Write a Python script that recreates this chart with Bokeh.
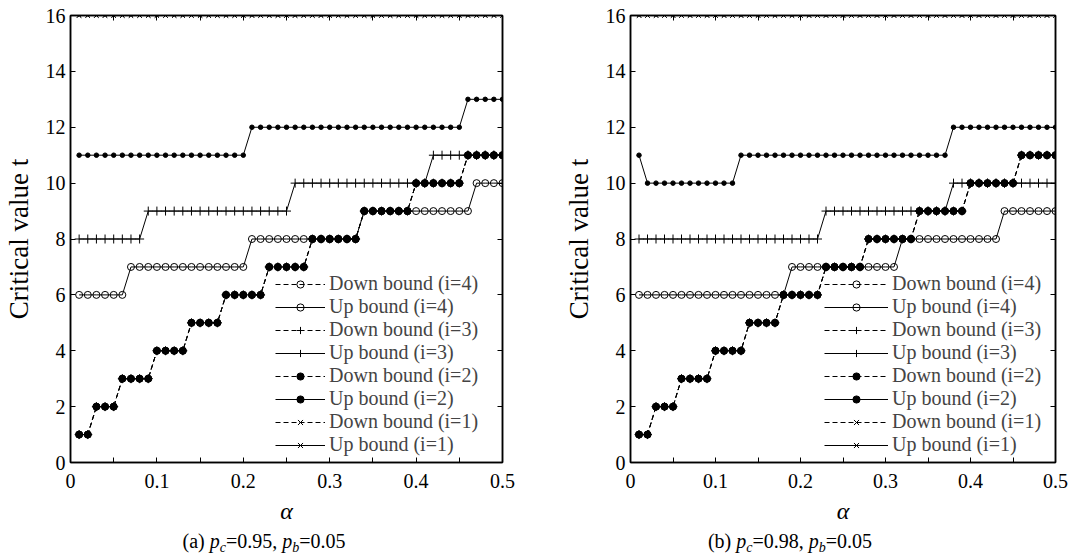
from bokeh.plotting import figure
from bokeh.models import FixedTicker, LinearAxis, Legend, LegendItem, Range1d, Div
from bokeh.layouts import row, column
from bokeh.embed import file_html
from bokeh.resources import INLINE

# ---------------- data ----------------
alpha = [0.01, 0.02, 0.03, 0.04, 0.05, 0.06, 0.07, 0.08, 0.09, 0.10,
         0.11, 0.12, 0.13, 0.14, 0.15, 0.16, 0.17, 0.18, 0.19, 0.20,
         0.21, 0.22, 0.23, 0.24, 0.25, 0.26, 0.27, 0.28, 0.29, 0.30,
         0.31, 0.32, 0.33, 0.34, 0.35, 0.36, 0.37, 0.38, 0.39, 0.40,
         0.41, 0.42, 0.43, 0.44, 0.45, 0.46, 0.47, 0.48, 0.49, 0.50]

x_ticks = [0, 0.1, 0.2, 0.3, 0.4, 0.5]
x_tick_labels = ["0", "0.1", "0.2", "0.3", "0.4", "0.5"]
x_minor_ticks = [0.05, 0.15, 0.25, 0.35, 0.45]
y_ticks = [0, 2, 4, 6, 8, 10, 12, 14, 16]

# panel (a)  p_c=0.95, p_b=0.05
a_up1 = [16, 16, 16, 16, 16, 16, 16, 16, 16, 16, 16, 16, 16, 16, 16, 16, 16, 16, 16, 16,
         16, 16, 16, 16, 16, 16, 16, 16, 16, 16, 16, 16, 16, 16, 16, 16, 16, 16, 16, 16,
         16, 16, 16, 16, 16, 16, 16, 16, 16, 16]
a_down1 = [16, 16, 16, 16, 16, 16, 16, 16, 16, 16, 16, 16, 16, 16, 16, 16, 16, 16, 16, 16,
           16, 16, 16, 16, 16, 16, 16, 16, 16, 16, 16, 16, 16, 16, 16, 16, 16, 16, 16, 16,
           16, 16, 16, 16, 16, 16, 16, 16, 16, 16]
a_up2 = [11, 11, 11, 11, 11, 11, 11, 11, 11, 11, 11, 11, 11, 11, 11, 11, 11, 11, 11, 11,
         12, 12, 12, 12, 12, 12, 12, 12, 12, 12, 12, 12, 12, 12, 12, 12, 12, 12, 12, 12,
         12, 12, 12, 12, 12, 13, 13, 13, 13, 13]
a_up3 = [8, 8, 8, 8, 8, 8, 8, 8, 9, 9, 9, 9, 9, 9, 9, 9, 9, 9, 9, 9, 9, 9, 9, 9, 9,
         10, 10, 10, 10, 10, 10, 10, 10, 10, 10, 10, 10, 10, 10, 10, 10,
         11, 11, 11, 11, 11, 11, 11, 11, 11]
a_up4 = [6, 6, 6, 6, 6, 6, 7, 7, 7, 7, 7, 7, 7, 7, 7, 7, 7, 7, 7, 7,
         8, 8, 8, 8, 8, 8, 8, 8, 8, 8, 8, 8, 8,
         9, 9, 9, 9, 9, 9, 9, 9, 9, 9, 9, 9, 9, 10, 10, 10, 10]
a_down2 = [1, 1, 2, 2, 2, 3, 3, 3, 3, 4, 4, 4, 4, 5, 5, 5, 5, 6, 6, 6, 6, 6,
           7, 7, 7, 7, 7, 8, 8, 8, 8, 8, 8, 9, 9, 9, 9, 9, 9,
           10, 10, 10, 10, 10, 10, 11, 11, 11, 11, 11]
a_down3 = [1, 1, 2, 2, 2, 3, 3, 3, 3, 4, 4, 4, 4, 5, 5, 5, 5, 6, 6, 6, 6, 6,
           7, 7, 7, 7, 7, 8, 8, 8, 8, 8, 8, 9, 9, 9, 9, 9, 9,
           10, 10, 10, 10, 10, 10, 11, 11, 11, 11, 11]
a_down4 = [1, 1, 2, 2, 2, 3, 3, 3, 3, 4, 4, 4, 4, 5, 5, 5, 5, 6, 6, 6, 6, 6,
           7, 7, 7, 7, 7, 8, 8, 8, 8, 8, 8, 9, 9, 9, 9, 9, 9,
           10, 10, 10, 10, 10, 10, 11, 11, 11, 11, 11]

# panel (b)  p_c=0.98, p_b=0.05
b_up1 = [16, 16, 16, 16, 16, 16, 16, 16, 16, 16, 16, 16, 16, 16, 16, 16, 16, 16, 16, 16,
         16, 16, 16, 16, 16, 16, 16, 16, 16, 16, 16, 16, 16, 16, 16, 16, 16, 16, 16, 16,
         16, 16, 16, 16, 16, 16, 16, 16, 16, 16]
b_down1 = [16, 16, 16, 16, 16, 16, 16, 16, 16, 16, 16, 16, 16, 16, 16, 16, 16, 16, 16, 16,
           16, 16, 16, 16, 16, 16, 16, 16, 16, 16, 16, 16, 16, 16, 16, 16, 16, 16, 16, 16,
           16, 16, 16, 16, 16, 16, 16, 16, 16, 16]
b_up2 = [11, 10, 10, 10, 10, 10, 10, 10, 10, 10, 10, 10,
         11, 11, 11, 11, 11, 11, 11, 11, 11, 11, 11, 11, 11, 11, 11, 11, 11, 11, 11, 11,
         11, 11, 11, 11, 11, 12, 12, 12, 12, 12, 12, 12, 12, 12, 12, 12, 12, 12]
b_up3 = [8, 8, 8, 8, 8, 8, 8, 8, 8, 8, 8, 8, 8, 8, 8, 8, 8, 8, 8, 8, 8, 8,
         9, 9, 9, 9, 9, 9, 9, 9, 9, 9, 9, 9, 9, 9, 9,
         10, 10, 10, 10, 10, 10, 10, 10, 10, 10, 10, 10, 10]
b_up4 = [6, 6, 6, 6, 6, 6, 6, 6, 6, 6, 6, 6, 6, 6, 6, 6, 6, 6,
         7, 7, 7, 7, 7, 7, 7, 7, 7, 7, 7, 7, 7,
         8, 8, 8, 8, 8, 8, 8, 8, 8, 8, 8, 8,
         9, 9, 9, 9, 9, 9, 9]
b_down2 = [1, 1, 2, 2, 2, 3, 3, 3, 3, 4, 4, 4, 4, 5, 5, 5, 5, 6, 6, 6, 6, 6,
           7, 7, 7, 7, 7, 8, 8, 8, 8, 8, 8, 9, 9, 9, 9, 9, 9,
           10, 10, 10, 10, 10, 10, 11, 11, 11, 11, 11]
b_down3 = [1, 1, 2, 2, 2, 3, 3, 3, 3, 4, 4, 4, 4, 5, 5, 5, 5, 6, 6, 6, 6, 6,
           7, 7, 7, 7, 7, 8, 8, 8, 8, 8, 8, 9, 9, 9, 9, 9, 9,
           10, 10, 10, 10, 10, 10, 11, 11, 11, 11, 11]
b_down4 = [1, 1, 2, 2, 2, 3, 3, 3, 3, 4, 4, 4, 4, 5, 5, 5, 5, 6, 6, 6, 6, 6,
           7, 7, 7, 7, 7, 8, 8, 8, 8, 8, 8, 9, 9, 9, 9, 9, 9,
           10, 10, 10, 10, 10, 10, 11, 11, 11, 11, 11]

legend_labels = ["Down bound (i=4)", "Up bound (i=4)", "Down bound (i=3)", "Up bound (i=3)",
                 "Down bound (i=2)", "Up bound (i=2)", "Down bound (i=1)", "Up bound (i=1)"]

SUB = '<sub style="font-size:70%;vertical-align:-0.3em;line-height:0;font-style:italic">'
caption_a = '(a) <i>p</i>' + SUB + 'c</sub>=0.95, <i>p</i>' + SUB + 'b</sub>=0.05'
caption_b = '(b) <i>p</i>' + SUB + 'c</sub>=0.98, <i>p</i>' + SUB + 'b</sub>=0.05'

FONT = "Liberation Serif"

MARK = {
    1: dict(marker="x", size=6, fill_color=None),
    2: dict(marker="circle", size=4.5, fill_color="black"),
    3: dict(marker="cross", size=9, fill_color=None),
    4: dict(marker="circle", size=7, fill_color=None),
}


def panel(up, down, fig_w, bl, br, legend_x, glyph_w):
    p = figure(width=fig_w, height=532, output_backend="svg", toolbar_location=None,
               x_range=Range1d(0, 0.5), y_range=Range1d(0, 16),
               min_border_left=bl, min_border_right=br, min_border_top=15, min_border_bottom=70)
    p.xgrid.grid_line_color = None
    p.ygrid.grid_line_color = None
    p.outline_line_color = "black"
    p.outline_line_width = 1.5
    p.outline_line_alpha = 1.0

    xt = FixedTicker(ticks=x_ticks, minor_ticks=x_minor_ticks)
    yt = FixedTicker(ticks=y_ticks)

    def style(ax, labels=True):
        ax.axis_line_color = "black"
        ax.axis_line_width = 1.5
        ax.major_tick_in = 5
        ax.major_tick_out = 0
        ax.minor_tick_in = 5
        ax.minor_tick_out = 0
        ax.major_tick_line_color = "black"
        ax.minor_tick_line_color = "black"
        ax.major_label_text_font = FONT
        if labels:
            ax.major_label_text_font_size = "20px"
            ax.major_label_text_color = "black"
        else:
            ax.major_label_text_font_size = "1px"
            ax.major_label_text_color = None
            ax.major_label_standoff = 0

    xa = p.xaxis[0]
    xa.ticker = xt
    xa.major_label_overrides = dict(zip(x_ticks, x_tick_labels))
    style(xa)
    xa.major_label_standoff = 11
    xa.axis_label = "α"
    xa.axis_label_text_font = FONT
    xa.axis_label_text_font_style = "italic"
    xa.axis_label_text_font_size = "24px"
    xa.axis_label_standoff = 7
    xa.axis_label_text_color = "black"

    ya = p.yaxis[0]
    ya.ticker = yt
    style(ya)
    ya.major_label_standoff = 5
    ya.axis_label = "Critical value t"
    ya.axis_label_text_font = FONT
    ya.axis_label_text_font_style = "normal"
    ya.axis_label_text_font_size = "27px"
    ya.axis_label_standoff = 9
    ya.axis_label_text_color = "black"

    top = LinearAxis(ticker=xt)
    style(top, labels=False)
    p.add_layout(top, "above")
    right = LinearAxis(ticker=yt)
    style(right, labels=False)
    p.add_layout(right, "right")

    rend = {}
    for i in (1, 2, 3, 4):
        ln = p.line(alpha, up[i], line_color="black", line_width=1)
        sc = p.scatter(alpha, up[i], line_color="black", line_width=1, **MARK[i])
        rend[("up", i)] = [ln, sc]
    for i in (4, 3, 1, 2):
        ln = p.line(alpha, down[i], line_color="black", line_width=1, line_dash="5 3")
        m = dict(MARK[i])
        if i == 2:
            m["size"] = 7
        sc = p.scatter(alpha, down[i], line_color="black", line_width=1, **m)
        rend[("down", i)] = [ln, sc]

    items = []
    order = [("down", 4), ("up", 4), ("down", 3), ("up", 3), ("down", 2), ("up", 2), ("down", 1), ("up", 1)]
    for lab, key in zip(legend_labels, order):
        items.append(LegendItem(label=lab, renderers=rend[key]))
    leg = Legend(items=items, location=(legend_x, 6), label_text_font=FONT,
                 label_text_font_size="20px", label_height=23, glyph_height=18,
                 glyph_width=glyph_w, label_standoff=4, spacing=0, padding=6, margin=0,
                 border_line_color=None, background_fill_alpha=0)
    p.add_layout(leg)
    return p


p1 = panel({1: a_up1, 2: a_up2, 3: a_up3, 4: a_up4}, {1: a_down1, 2: a_down2, 3: a_down3, 4: a_down4},
           560, 68, 58, 205, 50)
p2 = panel({1: b_up1, 2: b_up2, 3: b_up3, 4: b_up4}, {1: b_down1, 2: b_down2, 3: b_down3, 4: b_down4},
           508, 63, 13, 194, 64)

cap_style = {"font-family": FONT, "font-size": "20px", "color": "black",
             "text-align": "center", "line-height": "18px"}
d1 = Div(text=caption_a, width=528, height=23, margin=(0, 0, 0, 0), styles=cap_style)
d2 = Div(text=caption_b, width=460, height=23, margin=(0, 0, 0, 0), styles=cap_style)

layout = row(column(p1, d1, spacing=0), column(p2, d2, spacing=0), spacing=0)

open("out.html", "w").write(file_html(layout, INLINE))
